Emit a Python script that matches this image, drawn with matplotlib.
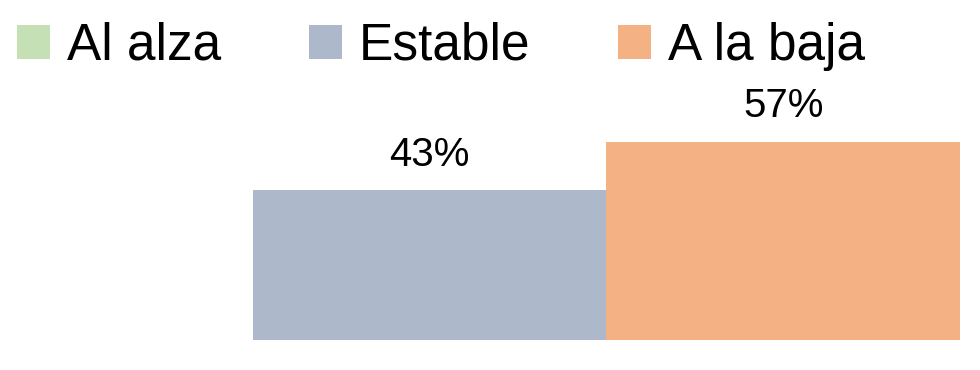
import matplotlib
matplotlib.use("Agg")
from matplotlib import pyplot as plt

categorias = ["Al alza", "Estable", "A la baja"]
valores = [0, 43, 57]
etiquetas = ["", "43%", "57%"]
colores = ["#c5e0b4", "#adb9ca", "#f4b183"]

plt.rcParams["font.family"] = ["Liberation Sans", "DejaVu Sans"]

fig = plt.figure(figsize=(9.8, 3.7), dpi=100)
ax = fig.add_axes([0, 0, 1, 1])

barras = ax.bar(range(len(categorias)), valores, width=1.0, color=colores,
                label=categorias, linewidth=0)
ax.bar_label(barras, labels=etiquetas, padding=12, fontsize=29, color="black")

ax.set_xlim(-0.216, 2.557)
ax.set_ylim(-8.6, 97.7)
ax.axis("off")

fig.legend(handles=list(barras), labels=categorias, loc="center left",
           bbox_to_anchor=(0.017, 0.875), ncol=3, frameon=False, fontsize=37,
           handlelength=0.65, handleheight=0.65, handletextpad=0.33,
           columnspacing=1.7, borderpad=0, borderaxespad=0)

plt.savefig("out.png", dpi=100)
